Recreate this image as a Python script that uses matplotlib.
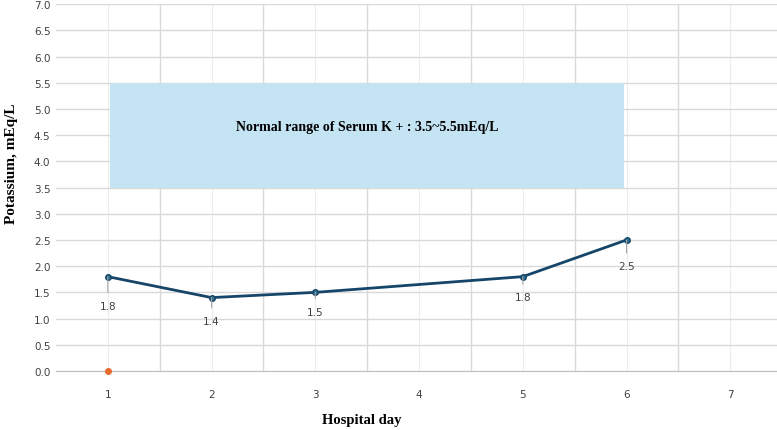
import numpy as np
import matplotlib.pyplot as plt
from matplotlib.patches import Rectangle

# datos
dias = [1, 2, 3, 5, 6]
potasio = [1.8, 1.4, 1.5, 1.8, 2.5]
dias_cat = [1, 2, 3, 4, 5, 6, 7]
punto_cero = (1, 0.0)
rango_normal = (3.5, 5.5)
texto_rango = 'Normal range of Serum K + : 3.5~5.5mEq/L'

# desplazamiento de las etiquetas (en puntos, hacia abajo)
desp = [21, 17, 14, 15, 19]

fig = plt.figure(figsize=(7.77, 4.31), dpi=100)
ax = fig.add_axes([0.072, 0.137, 0.928, 0.851])

ax.set_xlim(0.5, 7.45)
ax.set_ylim(0, 7.0)
ax.set_yticks(np.arange(0, 7.01, 0.5))
ax.set_yticklabels([f'{v:.1f}' for v in np.arange(0, 7.01, 0.5)])
ax.set_xticks(dias_cat)
ax.set_xticks([d + 0.5 for d in dias_cat[:-1]], minor=True)

ax.grid(True, which='major', axis='y', color='#d9d9d9', lw=1)
ax.grid(True, which='minor', axis='x', color='#d9d9d9', lw=1)
ax.grid(True, which='major', axis='x', color='#ececec', lw=0.8)
ax.set_axisbelow(True)

for s in ['top', 'right', 'left']:
    ax.spines[s].set_visible(False)
ax.spines['bottom'].set_color('#bfbfbf')
ax.tick_params(which='both', length=0, labelsize=7.5, labelcolor='#404040')
ax.tick_params(axis='x', pad=13)
ax.tick_params(axis='y', pad=4)

rect = Rectangle((1.02, rango_normal[0]), 4.96, rango_normal[1] - rango_normal[0],
                 facecolor='#c4e4f4', edgecolor='none', zorder=2)
ax.add_patch(rect)
ax.text(3.5, 4.66, texto_rango, ha='center', va='center', fontsize=10,
        fontweight='bold', family='Liberation Serif', zorder=3)

ax.plot(dias, potasio, color='#15466a', lw=2, marker='o', ms=4,
        mfc='#2a6b8c', mec='#15466a', zorder=4)
ax.plot(*punto_cero, 'o', color='#e46c2c', ms=4, zorder=4, clip_on=False)

for d, v, o in zip(dias, potasio, desp):
    ax.annotate(f'{v}', xy=(d, v), xytext=(0, -o), textcoords='offset points',
                ha='center', va='center', fontsize=7.5, color='#404040',
                arrowprops=dict(arrowstyle='-', color='#a6a6a6', lw=0.8,
                                shrinkA=4, shrinkB=0), zorder=5)

fig.text(0.015, 1 - 164 / 431, 'Potassium, mEq/L', family='Liberation Serif',
         fontweight='bold', fontsize=11, rotation=90, ha='center', va='center')
fig.text(362 / 777, 1 - 421 / 431, 'Hospital day', family='Liberation Serif',
         fontweight='bold', fontsize=10.5, ha='center', va='center')

fig.savefig('out.png', dpi=100)
